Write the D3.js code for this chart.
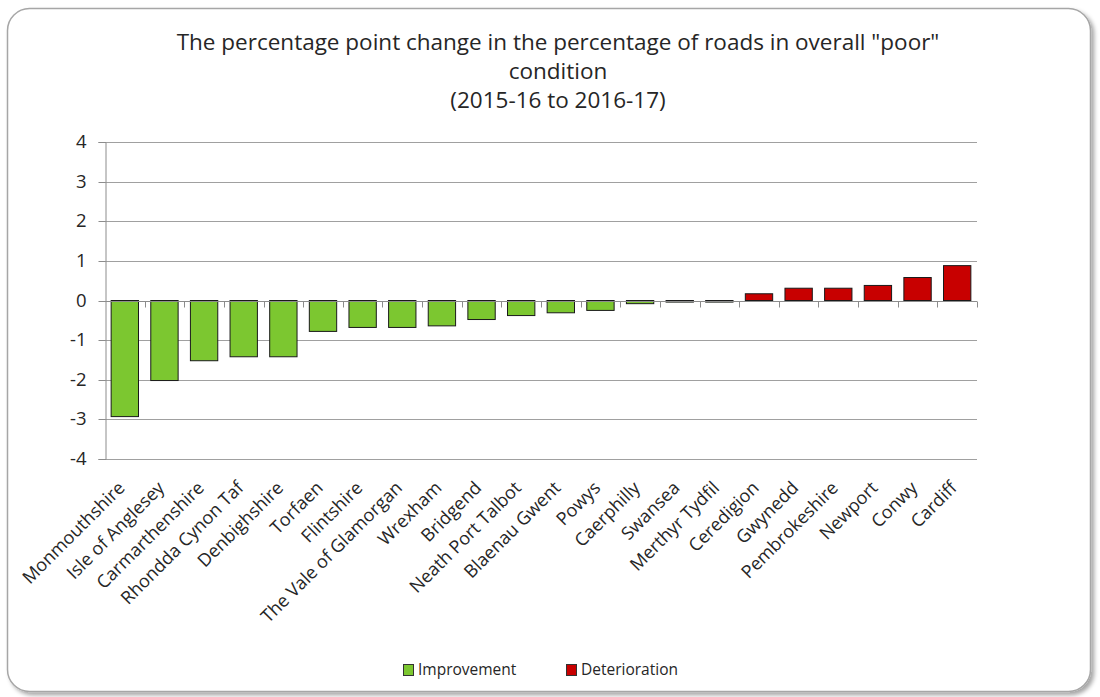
<!DOCTYPE html>
<html>
<head>
<meta charset="utf-8">
<script src="https://cdn.jsdelivr.net/npm/d3@7"></script>
<style>
  html, body { margin: 0; padding: 0; background: #fff; }
  svg { display: block; }
  text { font-family: "Open Sans", "DejaVu Sans", sans-serif; fill: #262626; }
</style>
</head>
<body>
<svg id="chart" width="1100" height="697"></svg>
<script>
const categories = ["Monmouthshire", "Isle of Anglesey", "Carmarthenshire", "Rhondda Cynon Taf",
  "Denbighshire", "Torfaen", "Flintshire", "The Vale of Glamorgan", "Wrexham", "Bridgend",
  "Neath Port Talbot", "Blaenau Gwent", "Powys", "Caerphilly", "Swansea", "Merthyr Tydfil",
  "Ceredigion", "Gwynedd", "Pembrokeshire", "Newport", "Conwy", "Cardiff"];
const values = [-2.93, -2.02, -1.52, -1.42, -1.42, -0.78, -0.68, -0.68, -0.64, -0.48,
  -0.38, -0.31, -0.25, -0.08, -0.04, -0.04, 0.17, 0.31, 0.31, 0.38, 0.58, 0.88];
const yTicks = [-4, -3, -2, -1, 0, 1, 2, 3, 4];
const seriesNames = ["Improvement", "Deterioration"];
const seriesColors = ["#7CC730", "#C80000"];
const titleLines = ['The percentage point change in the percentage of roads in overall "poor"', "condition", "(2015-16 to 2016-17)"];

(function () {
const svg = d3.select("#chart");

// chart frame with shadow
const defs = svg.append("defs");
const f = defs.append("filter").attr("id", "shadow").attr("x", "-5%").attr("y", "-5%").attr("width", "110%").attr("height", "110%");
f.append("feDropShadow").attr("dx", 3).attr("dy", 3).attr("stdDeviation", 2).attr("flood-color", "#000").attr("flood-opacity", 0.35);
svg.append("rect")
  .attr("x", 7.5).attr("y", 8.5).attr("width", 1083).attr("height", 683)
  .attr("rx", 22).attr("ry", 22)
  .attr("fill", "#fff").attr("stroke", "#a6a6a6").attr("stroke-width", 1.5)
  .attr("filter", "url(#shadow)");

const pLeft = 105, pRight = 977, pTop = 142, pBottom = 459;
const x = d3.scaleBand().domain(categories).range([pLeft, pRight]).paddingInner(0.31).paddingOuter(0.155);
const xb = d3.scaleBand().domain(categories).range([pLeft, pRight]);
const y = d3.scaleLinear().domain([-4, 4]).range([pBottom, pTop]);

// title
const title = svg.append("text").attr("text-anchor", "middle").style("font-size", "22.5px").style("font-weight", 400).attr("fill", "#333");
titleLines.forEach((t, i) => {
  title.append("tspan").attr("x", 558).attr("y", 50 + i * 29).text(t);
});

// gridlines
svg.append("g").selectAll("line").data(yTicks).join("line")
  .attr("x1", pLeft).attr("x2", pRight)
  .attr("y1", d => Math.round(y(d)) + 0.5).attr("y2", d => Math.round(y(d)) + 0.5)
  .attr("stroke", "#a0a0a0").attr("stroke-width", 1);

// y axis
const yAxis = svg.append("g").attr("transform", `translate(${pLeft + 0.5},0)`)
  .call(d3.axisLeft(y).tickValues(yTicks).tickSize(7).tickPadding(12).tickFormat(d => String(d)));
yAxis.select(".domain").attr("stroke", "#8c8c8c");
yAxis.selectAll(".tick line").attr("stroke", "#8c8c8c");
yAxis.selectAll(".tick text").style("font-size", "18.5px").attr("fill", "#262626").style("font-family", "'Open Sans', sans-serif");
yAxis.selectAll(".tick").attr("transform", d => `translate(0,${Math.round(y(d)) + 0.5})`);

// bars
svg.append("g").selectAll("rect").data(values).join("rect")
  .attr("x", (d, i) => x(categories[i]))
  .attr("width", x.bandwidth())
  .attr("y", d => y(Math.max(0, d)))
  .attr("height", d => Math.abs(y(d) - y(0)))
  .attr("fill", d => d < 0 ? seriesColors[0] : seriesColors[1])
  .attr("stroke", "#1a1a1a").attr("stroke-width", 1);

// zero axis with ticks at band boundaries
const y0 = Math.round(y(0)) + 0.5;
svg.append("line").attr("x1", pLeft).attr("x2", pRight).attr("y1", y0).attr("y2", y0).attr("stroke", "#8c8c8c");
svg.append("g").selectAll("line").data(categories.map((c, i) => i + 1)).join("line")
  .attr("x1", i => Math.round(pLeft + i * xb.step()) + 0.5)
  .attr("x2", i => Math.round(pLeft + i * xb.step()) + 0.5)
  .attr("y1", y0).attr("y2", y0 + 6).attr("stroke", "#8c8c8c");

// category labels
svg.append("g").selectAll("text").data(categories).join("text")
  .attr("text-anchor", "end")
  .attr("transform", d => `translate(${xb(d) + xb.bandwidth() / 2 + 1},${489}) rotate(-45)`)
  .style("font-size", "18px")
  .text(d => d);

// legend
const legend = svg.append("g");
const legendX = [403, 566];
seriesNames.forEach((n, i) => {
  legend.append("rect").attr("x", legendX[i] + 0.5).attr("y", 664.5).attr("width", 10).attr("height", 11)
    .attr("fill", seriesColors[i]).attr("stroke", "#333").attr("stroke-width", 1);
  legend.append("text").attr("x", legendX[i] + 15).attr("y", 675).style("font-size", "15.5px").text(n);
});
})();
</script>
</body>
</html>
